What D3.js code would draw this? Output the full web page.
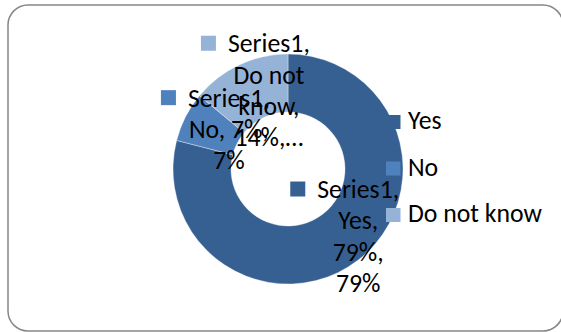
<!DOCTYPE html>
<html>
<head>
<meta charset="utf-8">
<script src="https://cdn.jsdelivr.net/npm/d3@7"></script>
<style>
  html, body { margin: 0; padding: 0; background: #fff; }
  svg { display: block; }
  text { font-family: Carlito, Lato, "Open Sans", sans-serif; fill: #000; }
</style>
</head>
<body>
<svg id="chart" width="561" height="332"></svg>
<script>
const seriesName = "Series1";
const categories = ["Yes", "No", "Do not know"];
const values = [79, 7, 14];
const colors = ["#376092", "#4F81BD", "#95B3D7"];
// wrapped data-label lines as shown in the picture
const labelLines = [
  ["Series1,", "Yes,", "79%,", "79%"],
  ["Series1,", "No, 7%,", "7%"],
  ["Series1,", "Do not", "know,", "14%,\u2026"]
];

const svg = d3.select("#chart");

// border
svg.append("rect")
  .attr("x", 8).attr("y", 5)
  .attr("width", 555).attr("height", 326)
  .attr("rx", 20).attr("ry", 20)
  .attr("fill", "#fff")
  .attr("stroke", "#868686")
  .attr("stroke-width", 1.5);

// fit font size so text widths resemble original
const probe = svg.append("text").attr("font-size", 100).text("Do not know");
const pw = probe.node().getComputedTextLength();
probe.remove();
const fs = 100 * 134 / pw;

const cx = 288, cy = 169, rOuter = 115, rInner = 57;

const color = d3.scaleOrdinal().domain(categories).range(colors);
const pie = d3.pie().sort(null).value(d => d.value);
const data = categories.map((c, i) => ({ cat: c, value: values[i], lines: labelLines[i] }));
const arcs = pie(data);
const arc = d3.arc().innerRadius(rInner).outerRadius(rOuter);
const labelArc = d3.arc().innerRadius((rInner + rOuter) / 2).outerRadius((rInner + rOuter) / 2);

// donut
const g = svg.append("g").attr("transform", `translate(${cx},${cy})`);
g.selectAll("path").data(arcs).enter().append("path")
  .attr("d", arc)
  .attr("fill", d => color(d.data.cat))
  .attr("stroke", "rgba(255,255,255,0.6)")
  .attr("stroke-width", 0.6);

// legend (drawn above the donut)
const legend = svg.append("g");
const legY = d3.scalePoint().domain(categories).range([129, 222]);
categories.forEach(c => {
  legend.append("rect")
    .attr("x", 386).attr("y", legY(c) - 14)
    .attr("width", 14.5).attr("height", 14)
    .attr("fill", color(c));
  legend.append("text")
    .attr("x", 408).attr("y", legY(c))
    .attr("font-size", fs)
    .text(c);
});

// data labels
const lineH = 31.3;
arcs.forEach(d => {
  const [lx, ly] = labelArc.centroid(d);
  const tx = cx + lx + 17.5;
  const n = d.data.lines.length;
  const firstBase = cy + ly + 8 - (n - 1) * lineH / 2;
  const t = svg.append("text")
    .attr("text-anchor", "middle")
    .attr("font-size", fs);
  d.data.lines.forEach((s, i) => {
    t.append("tspan").attr("x", tx).attr("y", firstBase + i * lineH).text(s);
  });
  const first = t.select("tspan").node();
  const w = first.getComputedTextLength();
  svg.append("rect")
    .attr("x", tx - w / 2 - 27).attr("y", firstBase - 16.5)
    .attr("width", 15).attr("height", 15)
    .attr("fill", color(d.data.cat));
});
</script>
</body>
</html>
